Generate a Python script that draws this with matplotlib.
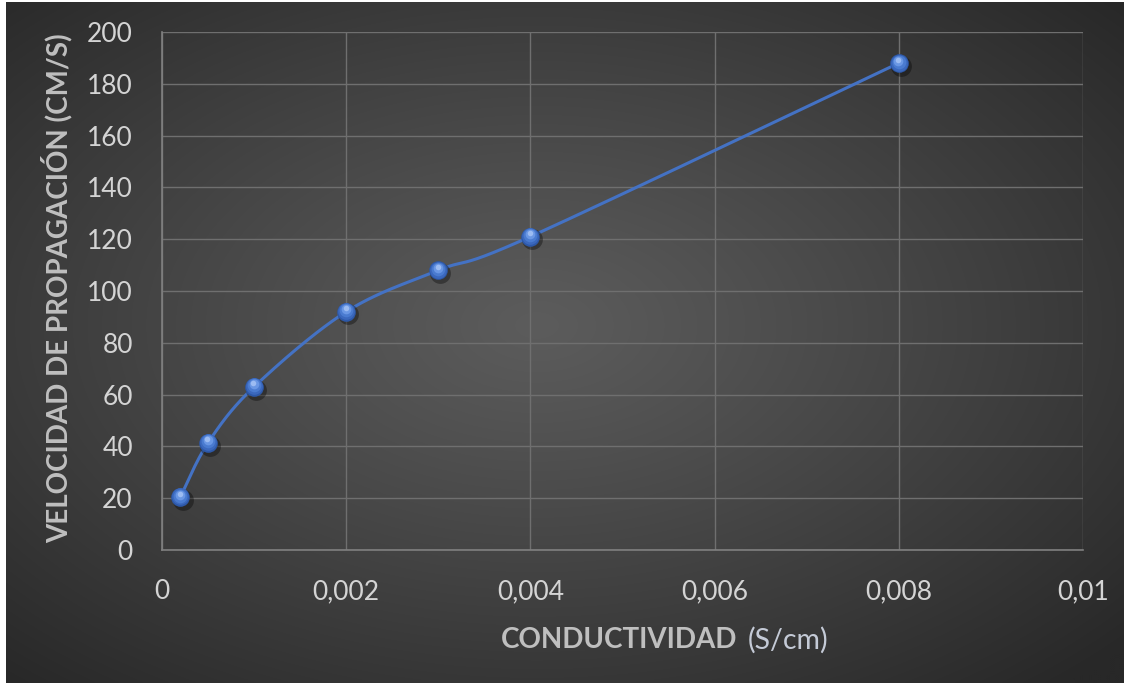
import numpy as np
import matplotlib
matplotlib.use("Agg")
import matplotlib.pyplot as plt
from matplotlib import transforms

# Measured propagation speed against conductivity
conductivity = [0.0002, 0.0005, 0.001, 0.002, 0.003, 0.004, 0.008]
speed = [20.5, 41.4, 63, 92, 108, 121, 188]

x_ticks = [0, 0.002, 0.004, 0.006, 0.008, 0.01]
x_tick_labels = ["0", "0,002", "0,004", "0,006", "0,008", "0,01"]
y_ticks = [0, 20, 40, 60, 80, 100, 120, 140, 160, 180, 200]

FONT = ["Lato", "DejaVu Sans"]
LINE_BLUE = "#4472C4"


def smooth_curve(xs, ys, n=40):
    """Catmull-Rom style cubic Bezier smoothing through every point."""
    p = np.column_stack([xs, ys]).astype(float)
    ext = np.vstack([p[0], p, p[-1]])
    t = np.linspace(0, 1, n)[:, None]
    segs = []
    for i in range(1, len(ext) - 2):
        p0, p1, p2, p3 = ext[i - 1], ext[i], ext[i + 1], ext[i + 2]
        c1 = p1 + (p2 - p0) / 6.0
        c2 = p2 - (p3 - p1) / 6.0
        seg = ((1 - t) ** 3) * p1 + 3 * ((1 - t) ** 2) * t * c1 \
            + 3 * (1 - t) * t ** 2 * c2 + t ** 3 * p2
        segs.append(seg)
    out = np.vstack(segs)
    return out[:, 0], out[:, 1]


W, H = 1124, 683
fig = plt.figure(figsize=(W / 100, H / 100), dpi=100, facecolor="white")

# Dark radial-gradient chart area (leaves a thin white margin at left and top)
bg = fig.add_axes([6 / W, 0, 1 - 6 / W, 681 / H])
bg.set_axis_off()
gx = np.linspace(-1, 1, 560)
gy = np.linspace(-1, 1, 340)
GX, GY = np.meshgrid(gx, gy)
r = np.sqrt(((GX + 0.05) / 1.0) ** 2 + ((GY + 0.05) / 1.0) ** 2) / np.sqrt(2)
r = np.clip(r, 0, 1)
val = (0x5c - (0x5c - 0x28) * r ** 1.1) / 255.0
bg.imshow(np.dstack([val, val, val]), extent=[0, 1, 0, 1], aspect="auto",
          origin="upper", interpolation="bilinear")
bg.set_xlim(0, 1)
bg.set_ylim(0, 1)

ax = fig.add_axes([162 / W, 1 - 550 / H, (1083 - 162) / W, (550 - 32) / H])
ax.set_facecolor("none")
ax.set_xlim(0, 0.01)
ax.set_ylim(0, 200)
ax.set_xticks(x_ticks)
ax.set_xticklabels(x_tick_labels)
ax.set_yticks(y_ticks)
ax.grid(True, color="#6f6f6f", linewidth=1.0)
ax.set_axisbelow(True)
for side in ("top", "right"):
    ax.spines[side].set_visible(False)
for side in ("left", "bottom"):
    ax.spines[side].set_color("#808080")
    ax.spines[side].set_linewidth(1.2)
ax.tick_params(length=0, colors="#d4d4d4", labelsize=19)
ax.tick_params(axis="y", pad=21)
ax.tick_params(axis="x", pad=21)
for lab in ax.get_xticklabels() + ax.get_yticklabels():
    lab.set_family(FONT)

# Smoothed series line
sx, sy = smooth_curve(np.array(conductivity) / 0.01, np.array(speed) / 200.0)
ax.plot(sx * 0.01, sy * 200.0, color=LINE_BLUE, linewidth=2.2, zorder=3,
        solid_capstyle="round")

# Spherical markers: soft shadow, body, then lighter layers toward the top
shadow = transforms.offset_copy(ax.transData, fig=fig, x=1.5, y=-2.0,
                                units="points")
ax.plot(conductivity, speed, "o", ms=15, color="black", alpha=0.35,
        mec="none", transform=shadow, zorder=4)
layers = [(13.4, "#2d58a8", 0.0), (12.0, "#3b68bd", 0.4),
          (9.8, "#4a7bd0", 1.0), (7.0, "#6a97e4", 1.7),
          (4.0, "#9cbcf2", 2.4)]
for size, col, up in layers:
    tr = transforms.offset_copy(ax.transData, fig=fig, x=-up * 0.2, y=up,
                                units="points")
    ax.plot(conductivity, speed, "o", ms=size, color=col, mec="none",
            transform=tr, zorder=5)

# Axis titles
fig.text(57 / W, 1 - 288 / H, "VELOCIDAD DE PROPAGACIÓN (CM/S)",
         rotation=90, ha="center", va="center", fontsize=20,
         fontweight="bold", color="#bfbfbf", family=FONT)
fig.text(737 / W, 1 - 640 / H, "CONDUCTIVIDAD", ha="right", va="center",
         fontsize=20, fontweight="bold", color="#bfbfbf", family=FONT)
fig.text(748 / W, 1 - 640 / H, "(S/cm)", ha="left", va="center",
         fontsize=20.5, color="#c4cad6", family=FONT)

fig.savefig("out.png", dpi=100, facecolor="white")
